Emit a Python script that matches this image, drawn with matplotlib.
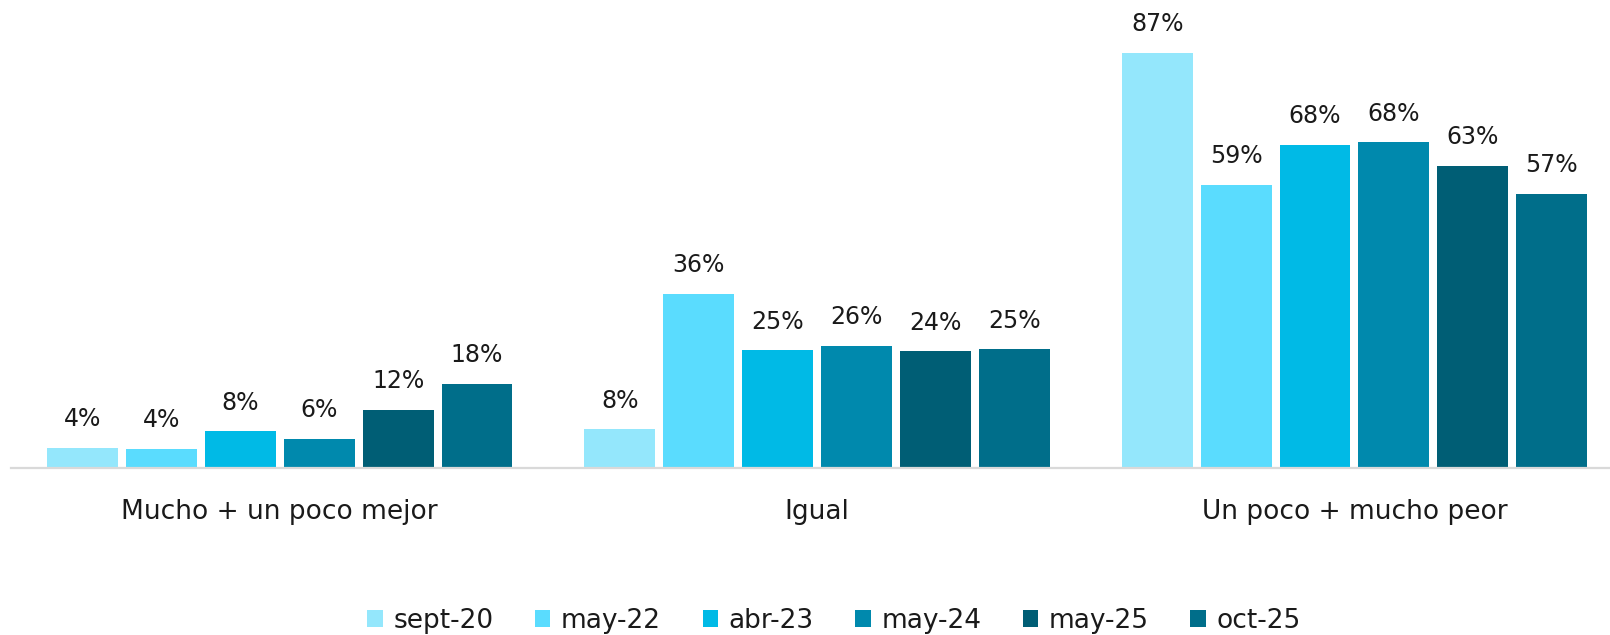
import matplotlib
matplotlib.use("Agg")
import matplotlib.pyplot as plt
import numpy as np

plt.rcParams['font.family'] = ['DejaVu Sans']

categories = ["Mucho + un poco mejor", "Igual", "Un poco + mucho peor"]
series = ["sept-20", "may-22", "abr-23", "may-24", "may-25", "oct-25"]
values = {
    "sept-20": [4.1, 8.0, 87.0],
    "may-22": [3.9, 36.4, 59.4],
    "abr-23": [7.6, 24.6, 67.7],
    "may-24": [6.0, 25.6, 68.3],
    "may-25": [12.1, 24.4, 63.4],
    "oct-25": [17.6, 24.8, 57.4],
}
colors = ["#94E7FC", "#5ADCFE", "#00BAE6", "#0089AD", "#005E75", "#006E8A"]

W, H = 1610, 635
fig = plt.figure(figsize=(W / 100, H / 100), dpi=100)
ax_left = 11 / W
base = 467.5
ax = fig.add_axes([ax_left, (H - base) / H, 1 - ax_left, base / H])

x = np.arange(len(categories))
pitch = 0.1468
width = 0.132
for i, s in enumerate(series):
    offs = (i - (len(series) - 1) / 2) * pitch
    bars = ax.bar(x + offs, values[s], width=width, color=colors[i], label=s,
                  edgecolor='none')
    for b, v in zip(bars, values[s]):
        ax.annotate(f"{v:.0f}%", (b.get_x() + b.get_width() / 2, b.get_height()),
                    xytext=(0, 12), textcoords='offset points',
                    ha='center', va='bottom', fontsize=17, color='#1a1a1a')

ax.set_xlim((11 - 279.8) / 537.3, (1610 - 279.8) / 537.3)
ax.set_ylim(0, base / 4.763)
ax.set_xticks(x)
ax.set_xticklabels(categories, fontsize=19, color='#1a1a1a')
ax.tick_params(axis='x', length=0, pad=22.5)
ax.set_yticks([])
for sp in ['top', 'right', 'left']:
    ax.spines[sp].set_visible(False)
ax.spines['bottom'].set_color('#D9D9D9')
ax.spines['bottom'].set_linewidth(1.6)
ax.patch.set_alpha(0)

handles, labels = ax.get_legend_handles_labels()
fig.legend(handles, labels, loc='center', bbox_to_anchor=(834 / W, 1 - 621 / H),
           ncol=6, frameon=False, fontsize=19, handlelength=0.58,
           handleheight=0.6, handletextpad=0.4, columnspacing=1.58,
           borderaxespad=0, borderpad=0, labelcolor='#1a1a1a')

fig.savefig("out.png", dpi=100)
